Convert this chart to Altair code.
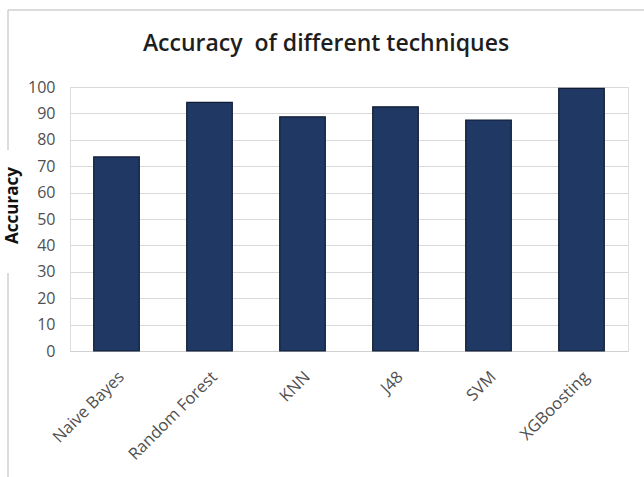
import altair as alt
import pandas as pd

# Accuracy (%) reported for each classification technique
techniques = ["Naive Bayes", "Random Forest", "KNN", "J48", "SVM", "XGBoosting"]
accuracy = [73.5, 94.2, 88.7, 92.5, 87.5, 99.5]
y_ticks = [0, 10, 20, 30, 40, 50, 60, 70, 80, 90, 100]

df = pd.DataFrame({"Technique": techniques, "Accuracy": accuracy})

FONT = "Open Sans"
PLOT_W, PLOT_H = 558, 264

bars = alt.Chart(df).mark_bar(
    color="#203864", stroke="#0f1b33", strokeWidth=1.2
).encode(
    x=alt.X(
        "Technique:N",
        sort=techniques,
        scale=alt.Scale(paddingInner=0.51, paddingOuter=0.255),
        axis=alt.Axis(
            title=None,
            labelAngle=315,
            labelAlign="right",
            labelBaseline="middle",
            labelPadding=23,
            labelOffset=5,
            labelFontSize=16.5,
            labelColor="#505050",
            labelFont=FONT,
            ticks=False,
            domainColor="#d0d0d0",
            domainWidth=1.2,
            grid=False,
        ),
    ),
    y=alt.Y(
        "Accuracy:Q",
        scale=alt.Scale(domain=[0, 100], nice=False),
        axis=alt.Axis(
            title="Accuracy",
            values=y_ticks,
            titleFont=FONT,
            titleFontSize=17,
            titleFontWeight="bold",
            titleColor="#111111",
            titleX=-58,
            titleY=118,
            titleAngle=270,
            titleAlign="center",
            titleBaseline="middle",
            labelFont=FONT,
            labelFontSize=16,
            labelColor="#505050",
            labelPadding=15,
            ticks=False,
            domain=False,
            grid=True,
            gridColor="#d9d9d9",
            gridWidth=1.2,
        ),
    ),
)

# Chart-area border: top edge and the left edge, broken where the axis title sits
border = alt.Data(values=[{}])
top_edge = alt.Chart(border).mark_rule(color="#d0d0d0", strokeWidth=1.5).encode(
    x=alt.value(-62), x2=alt.value(580), y=alt.value(-77)
)
left_upper = alt.Chart(border).mark_rule(color="#d0d0d0", strokeWidth=1.5).encode(
    x=alt.value(-62), y=alt.value(-77), y2=alt.value(63)
)
left_lower = alt.Chart(border).mark_rule(color="#d0d0d0", strokeWidth=1.5).encode(
    x=alt.value(-62), y=alt.value(186), y2=alt.value(395)
)

chart = alt.layer(top_edge, left_upper, left_lower, bars).properties(
    width=PLOT_W,
    height=PLOT_H,
    title=alt.TitleParams(
        text="Accuracy\u00a0 of different techniques",
        font=FONT,
        fontSize=23,
        fontWeight=600,
        color="#1e1e1e",
        anchor="middle",
        frame="group",
        baseline="alphabetic",
        dx=-23,
        offset=-65,
    ),
    autosize=alt.AutoSizeParams(type="none"),
    padding={"left": 70, "top": 87, "right": 16, "bottom": 126},
).configure_view(stroke=None).configure(background="white")

chart.save("out.html", embed_options={"renderer": "svg", "actions": False})
